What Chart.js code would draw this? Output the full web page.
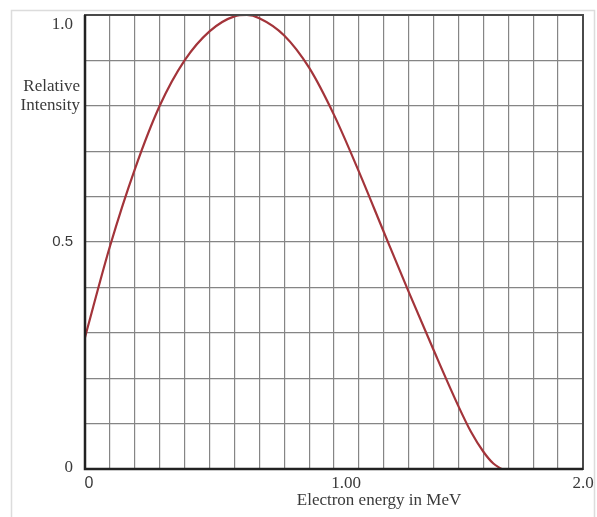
<!DOCTYPE html>
<html>
<head>
<meta charset="utf-8">
<script src="https://cdn.jsdelivr.net/npm/chart.js@4/dist/chart.umd.min.js"></script>
<style>
  html, body { margin: 0; padding: 0; background: #fff; }
  #wrap { width: 597px; height: 517px; position: relative; }
</style>
</head>
<body>
<div id="wrap"><canvas id="c" width="597" height="517"></canvas></div>
<script>
// Beta spectrum: relative intensity vs electron kinetic energy
const energyMeV = [0, 0.1, 0.2, 0.3, 0.4, 0.5, 0.6, 0.65, 0.7, 0.8, 0.9, 1.0, 1.1, 1.2, 1.3, 1.4, 1.5, 1.55, 1.6, 1.64, 1.673];
const relIntensity = [0.29, 0.49, 0.66, 0.80, 0.90, 0.964, 0.997, 1.0, 0.993, 0.955, 0.884, 0.78, 0.655, 0.522, 0.39, 0.262, 0.138, 0.082, 0.038, 0.012, 0.0];

// Labelled ticks
const xTickValues = [0, 1, 2];
const xTickLabels = ['0', '1.00', '2.0'];
const yTickValues = [0, 0.5, 1];
const yTickLabels = ['0', '0.5', '1.0'];

const xTitle = 'Electron energy in MeV';
const yTitleLines = ['Relative', 'Intensity'];

const points = energyMeV.map((e, i) => ({ x: e, y: relIntensity[i] }));

const SERIF = '"Liberation Serif", "DejaVu Serif", serif';
const SANS = '"Liberation Sans", "DejaVu Sans", sans-serif';

// Frame, plot border and hand-placed axis text
const decorations = {
  id: 'decorations',
  beforeDraw(chart) {
    const ctx = chart.ctx;
    ctx.save();
    ctx.fillStyle = '#fff';
    ctx.fillRect(0, 0, chart.width, chart.height);
    ctx.strokeStyle = '#dcdcdc';
    ctx.lineWidth = 1.5;
    ctx.beginPath();
    ctx.moveTo(11.5, 517);
    ctx.lineTo(11.5, 10.5);
    ctx.lineTo(594.5, 10.5);
    ctx.lineTo(594.5, 517);
    ctx.stroke();
    ctx.restore();
  },
  afterDraw(chart) {
    const ctx = chart.ctx;
    const a = chart.chartArea;
    const xs = chart.scales.x, ys = chart.scales.y;
    ctx.save();
    // plot box
    ctx.strokeStyle = '#4a4a4a';
    ctx.lineWidth = 2;
    ctx.strokeRect(a.left, a.top, a.right - a.left, a.bottom - a.top);
    ctx.strokeStyle = '#222';
    ctx.lineWidth = 2.5;
    ctx.beginPath();
    ctx.moveTo(a.left, a.top);
    ctx.lineTo(a.left, a.bottom);
    ctx.lineTo(a.right, a.bottom);
    ctx.stroke();

    ctx.fillStyle = '#3a3a3a';
    // y tick labels
    ctx.textAlign = 'right';
    ctx.textBaseline = 'middle';
    const yOffsets = [-1, 0, 10];
    yTickValues.forEach((v, i) => {
      ctx.font = (i === 1 ? '15px ' + SANS : '17px ' + SERIF);
      ctx.fillText(yTickLabels[i], a.left - 12, ys.getPixelForValue(v) + yOffsets[i]);
    });
    // x tick labels
    ctx.textAlign = 'center';
    ctx.textBaseline = 'middle';
    const xOffsets = [4, 12, 0];
    xTickValues.forEach((v, i) => {
      ctx.font = (i === 0 ? '16px ' + SANS : '17px ' + SERIF);
      ctx.fillText(xTickLabels[i], xs.getPixelForValue(v) + xOffsets[i], a.bottom + 15);
    });
    // axis titles
    ctx.font = '17px ' + SERIF;
    ctx.fillText(xTitle, 379, a.bottom + 32);
    ctx.textAlign = 'right';
    ctx.fillText(yTitleLines[0], 80, 87);
    ctx.fillText(yTitleLines[1], 80, 106);
    ctx.restore();
  }
};

new Chart(document.getElementById('c'), {
  type: 'scatter',
  data: {
    datasets: [{
      data: points,
      showLine: true,
      borderColor: '#a3343a',
      borderWidth: 2.2,
      pointRadius: 0,
      fill: false,
      cubicInterpolationMode: 'monotone'
    }]
  },
  options: {
    responsive: false,
    animation: false,
    devicePixelRatio: 1,
    layout: { padding: { left: 85, right: 14, top: 15, bottom: 48 } },
    plugins: { legend: { display: false }, tooltip: { enabled: false } },
    scales: {
      x: {
        type: 'linear',
        min: 0, max: 2,
        ticks: { display: false, stepSize: 0.1 },
        grid: { color: '#858585', lineWidth: 1.2, drawTicks: false },
        border: { display: false }
      },
      y: {
        type: 'linear',
        min: 0, max: 1,
        ticks: { display: false, stepSize: 0.1 },
        grid: { color: '#858585', lineWidth: 1.2, drawTicks: false },
        border: { display: false }
      }
    }
  },
  plugins: [decorations]
});
</script>
</body>
</html>
